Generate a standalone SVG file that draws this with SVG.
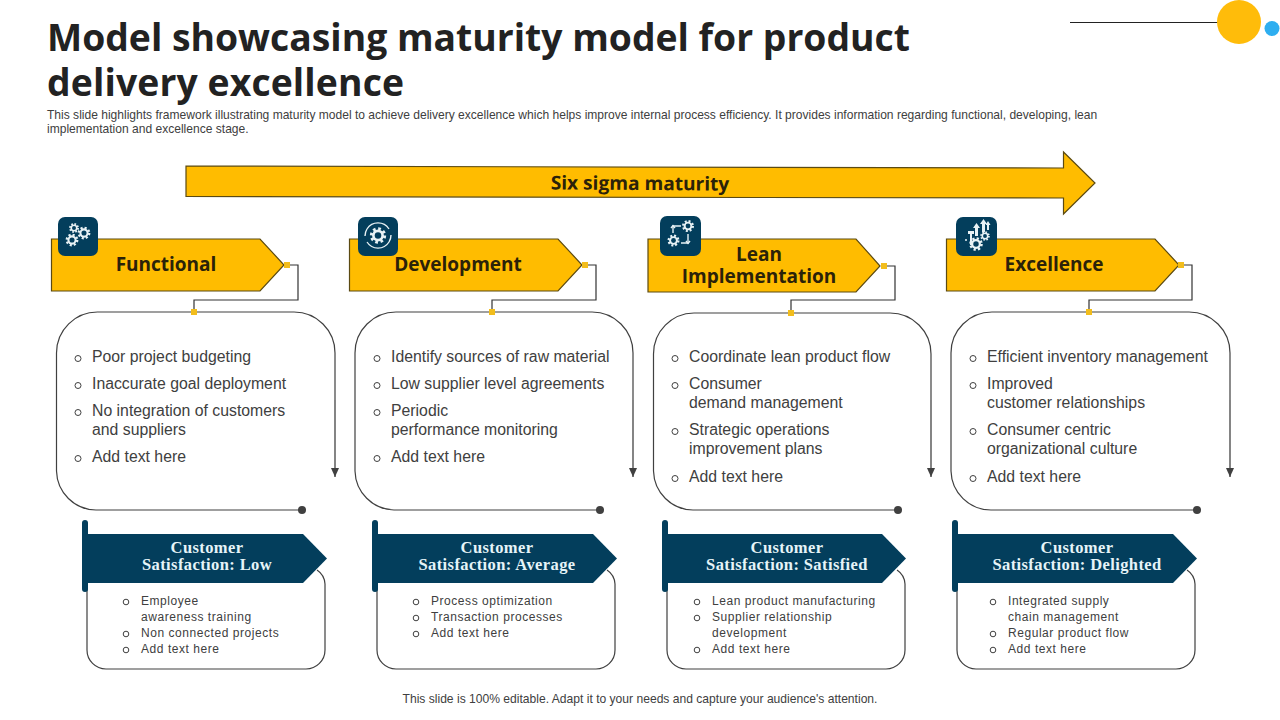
<svg xmlns="http://www.w3.org/2000/svg" width="1280" height="720" viewBox="0 0 1280 720">
<defs>
<style>
.title{font:700 37.300px "Open Sans","Noto Sans",sans-serif;fill:#222}
.sub{font:12.050px "Liberation Sans",Arial,sans-serif;fill:#404040}
.foot{font:12.100px "Liberation Sans",Arial,sans-serif;fill:#404040;text-anchor:middle}
.head{font:700 19px "Open Sans","Noto Sans",sans-serif;fill:#2b2209;text-anchor:middle}
.sig{font:700 19.100px "Open Sans","Noto Sans",sans-serif;fill:#2b2209;text-anchor:middle}
.sat{font:700 16.500px "Liberation Serif","Open Sans",serif;fill:#e6f4f8;text-anchor:middle;letter-spacing:.4px}
.b1{font:15.800px "Liberation Sans",Arial,sans-serif;fill:#404040}
.b2{font:12px "Liberation Sans",Arial,sans-serif;fill:#404040;letter-spacing:.55px}
.bul{fill:none;stroke:#404040;stroke-width:1}
.ban{fill:#ffbc00;stroke:#5b4a12;stroke-width:1.2}
.box{fill:none;stroke:#404040;stroke-width:1.2}
.con{fill:none;stroke:#333;stroke-width:1.2}
.sq{fill:#f2bd1c}
.navy{fill:#033e5c}
.ic{fill:none;stroke:#e8f2f5;stroke-width:1.4}
</style>
<marker id="ah" viewBox="0 0 8 9" refX="4" refY="9" markerWidth="8" markerHeight="9" orient="0" markerUnits="userSpaceOnUse"><path d="M0 0H8L4 9Z" fill="#404040"/></marker>
<symbol id="gear" viewBox="-10 -10 20 20" overflow="visible">
<circle r="6.500" fill="none" stroke="#e8f2f5" stroke-width="3" stroke-dasharray="2.600 2.500"/>
<circle r="5.800" fill="#e8f2f5"/>
<circle r="3.200" fill="#033e5c"/>
</symbol>
</defs>
<rect width="1280" height="720" fill="#fff"/>
<g id="header">
<text class="title" x="47" y="51">Model showcasing maturity model for product</text>
<text class="title" x="47" y="96" textLength="357" lengthAdjust="spacing">delivery excellence</text>
<text class="sub" x="47" y="119">This slide highlights framework illustrating maturity model to achieve delivery excellence which helps improve internal process efficiency. It provides information regarding functional, developing, lean</text>
<text class="sub" x="47" y="133">implementation and excellence stage.</text>
<path d="M1070 22.500H1220" stroke="#222" stroke-width="1"/>
<circle cx="1239" cy="22" r="22" fill="#ffbc0a"/>
<circle cx="1272" cy="28.500" r="7.500" fill="#2eaef0"/>
</g>
<g id="sigma">
<path d="M186 166L1063.500 168V152L1095 183L1063.500 214V198L186 196.500Z" class="ban"/>
<text class="sig" x="640" y="190" transform="rotate(.4 640 184)">Six sigma maturity</text>
</g>
<g id="connectors">
<path class="con" d="M287 265H298V300H194V312"/>
<path class="con" d="M585 265H596V300H492V312"/>
<path class="con" d="M884 266H895V300H791V313"/>
<path class="con" d="M1181 265H1192V300H1089V312"/>
<path class="con" d="M335 400V477" marker-end="url(#ah)"/>
<path class="con" d="M633 400V477" marker-end="url(#ah)"/>
<path class="con" d="M931 400V477" marker-end="url(#ah)"/>
<path class="con" d="M1230 400V477" marker-end="url(#ah)"/>
</g>
<g id="n1">
<path class="ban" d="M51.500 239H260L284 265L260 291H51.500Z"/>
<rect class="navy" x="58" y="217" width="40" height="39" rx="7"/>
<use href="#gear" x="-10" y="-10" width="20" height="20" transform="translate(84 233) scale(.8)"/>
<use href="#gear" x="-10" y="-10" width="20" height="20" transform="translate(74 228) scale(.62)"/>
<use href="#gear" x="-10" y="-10" width="20" height="20" transform="translate(72 240) scale(.8)"/>
<text class="head" x="166" y="271">Functional</text>
<rect class="sq" x="284" y="262" width="6" height="6"/>
<path class="box" d="M98 312H294A41 41 0 0 1 335 353V400M302 510H96A40 40 0 0 1 56.500 471V353A41 41 0 0 1 98 312"/>
<rect class="sq" x="191" y="309" width="6" height="6"/>
<circle cx="302" cy="510" r="4" fill="#404040"/>
<circle class="bul" cx="78" cy="358.500" r="3"/><text class="b1" x="92" y="362">Poor project budgeting</text>
<circle class="bul" cx="78" cy="385.500" r="3"/><text class="b1" x="92" y="389">Inaccurate goal deployment</text>
<circle class="bul" cx="78" cy="412.500" r="3"/><text class="b1" x="92" y="416">No integration of customers</text><text class="b1" x="92" y="435">and suppliers</text>
<circle class="bul" cx="78" cy="458.500" r="3"/><text class="b1" x="92" y="462">Add text here</text>
<path class="box" d="M87 578V650A19 19 0 0 0 106 669H306A19 19 0 0 0 325 650V584A18 18 0 0 0 317 570"/>
<path class="navy" d="M87 534H303L327 558.500L303 583H87Z"/>
<rect class="navy" x="82" y="520" width="6" height="72" rx="3"/>
<text class="sat" x="207" y="552.500">Customer</text><text class="sat" x="207" y="569.500">Satisfaction: Low</text>
<circle class="bul" cx="126" cy="602" r="2.800"/><text class="b2" x="141" y="604.500">Employee</text><text class="b2" x="141" y="620.500">awareness training</text>
<circle class="bul" cx="126" cy="634" r="2.800"/><text class="b2" x="141" y="636.500">Non connected projects</text>
<circle class="bul" cx="126" cy="650" r="2.800"/><text class="b2" x="141" y="652.500">Add text here</text>
</g>
<g id="n2">
<path class="ban" d="M349.500 239H558L582 265L558 291H349.500Z"/>
<rect class="navy" x="358" y="217" width="40" height="39" rx="7"/>
<g class="ic"><path d="M367 229A13 13 0 0 1 389 229M389 242A13 13 0 0 1 367 242" stroke-width="1.300"/><path d="M365 236A13 13 0 0 1 367 229M391 235A13 13 0 0 1 389 242"/></g>
<use href="#gear" x="-10" y="-10" width="20" height="20" transform="translate(378 235.500) scale(1.020)"/>
<text class="head" x="458" y="271">Development</text>
<rect class="sq" x="582" y="262" width="6" height="6"/>
<path class="box" d="M396 312H592A41 41 0 0 1 633 353V400M600 510H394A40 40 0 0 1 355 471V353A41 41 0 0 1 396 312"/>
<rect class="sq" x="489" y="309" width="6" height="6"/>
<circle cx="600" cy="510" r="4" fill="#404040"/>
<circle class="bul" cx="377" cy="358.500" r="3"/><text class="b1" x="391" y="362">Identify sources of raw material</text>
<circle class="bul" cx="377" cy="385.500" r="3"/><text class="b1" x="391" y="389">Low supplier level agreements</text>
<circle class="bul" cx="377" cy="412.500" r="3"/><text class="b1" x="391" y="416">Periodic</text><text class="b1" x="391" y="435">performance monitoring</text>
<circle class="bul" cx="377" cy="458.500" r="3"/><text class="b1" x="391" y="462">Add text here</text>
<path class="box" d="M377 578V650A19 19 0 0 0 396 669H596A19 19 0 0 0 615 650V584A18 18 0 0 0 607 570"/>
<path class="navy" d="M377 534H593L617 558.500L593 583H377Z"/>
<rect class="navy" x="372" y="520" width="6" height="72" rx="3"/>
<text class="sat" x="497" y="552.500">Customer</text><text class="sat" x="497" y="569.500">Satisfaction: Average</text>
<circle class="bul" cx="416" cy="602" r="2.800"/><text class="b2" x="431" y="604.500">Process optimization</text>
<circle class="bul" cx="416" cy="618" r="2.800"/><text class="b2" x="431" y="620.500">Transaction processes</text>
<circle class="bul" cx="416" cy="634" r="2.800"/><text class="b2" x="431" y="636.500">Add text here</text>
</g>
<g id="n3">
<path class="ban" d="M648 239H856L880 266L856 292H648Z"/>
<rect class="navy" x="660" y="216" width="41" height="40" rx="7"/>
<use href="#gear" x="-10" y="-10" width="20" height="20" transform="translate(688 226) scale(.75)"/>
<use href="#gear" x="-10" y="-10" width="20" height="20" transform="translate(673.500 240.500) scale(.75)"/>
<g class="ic"><path d="M673 233V226H681M688 234V243H681"/><path d="M671 228L673 225.500L675 228M686 241L688 243.500L690 241"/></g>
<text class="head" x="759" y="261">Lean</text><text class="head" x="759" y="283">Implementation</text>
<rect class="sq" x="881" y="263" width="6" height="6"/>
<path class="box" d="M694 313H890A41 41 0 0 1 931 354V400M898 510H693A40 40 0 0 1 653.500 471V354A41 41 0 0 1 694 313"/>
<rect class="sq" x="788" y="310" width="6" height="6"/>
<circle cx="898" cy="510" r="4" fill="#404040"/>
<circle class="bul" cx="675" cy="358.500" r="3"/><text class="b1" x="689" y="362">Coordinate lean product flow</text>
<circle class="bul" cx="675" cy="385.500" r="3"/><text class="b1" x="689" y="389">Consumer</text><text class="b1" x="689" y="408">demand management</text>
<circle class="bul" cx="675" cy="431.500" r="3"/><text class="b1" x="689" y="435">Strategic operations</text><text class="b1" x="689" y="454">improvement plans</text>
<circle class="bul" cx="675" cy="478.500" r="3"/><text class="b1" x="689" y="482">Add text here</text>
<path class="box" d="M667 578V650A19 19 0 0 0 686 669H886A19 19 0 0 0 905 650V584A18 18 0 0 0 897 570"/>
<path class="navy" d="M667 534H882L906 558.500L882 583H667Z"/>
<rect class="navy" x="662" y="520" width="6" height="72" rx="3"/>
<text class="sat" x="787" y="552.500">Customer</text><text class="sat" x="787" y="569.500">Satisfaction: Satisfied</text>
<circle class="bul" cx="697" cy="602" r="2.800"/><text class="b2" x="712" y="604.500">Lean product manufacturing</text>
<circle class="bul" cx="697" cy="618" r="2.800"/><text class="b2" x="712" y="620.500">Supplier relationship</text><text class="b2" x="712" y="636.500">development</text>
<circle class="bul" cx="697" cy="650" r="2.800"/><text class="b2" x="712" y="652.500">Add text here</text>
</g>
<g id="n4">
<path class="ban" d="M946.500 239H1155L1179 265L1155 291H946.500Z"/>
<rect class="navy" x="956" y="217" width="41" height="39" rx="7"/>
<g fill="#e8f2f5">
<path d="M968 231H974V234H972V245H970V234H968Z"/><path d="M973 228L976.500 223L980 228H978V236H975V228Z"/><path d="M980 224L983.500 219L987 224H985V232H982V224Z"/><path d="M985.500 225L988 221L990.500 225H989V230H987V225Z"/>
<circle cx="966" cy="240" r="1"/>
</g>
<use href="#gear" x="-10" y="-10" width="20" height="20" transform="translate(976 244) scale(.85)"/>
<use href="#gear" x="-10" y="-10" width="20" height="20" transform="translate(985 236) scale(.6)"/>
<text class="head" x="1054" y="271">Excellence</text>
<rect class="sq" x="1178" y="262" width="6" height="6"/>
<path class="box" d="M992 312H1189A41 41 0 0 1 1230 353V400M1197 510H991A40 40 0 0 1 951 471V353A41 41 0 0 1 992 312"/>
<rect class="sq" x="1086" y="309" width="6" height="6"/>
<circle cx="1197" cy="510" r="4" fill="#404040"/>
<circle class="bul" cx="973" cy="358.500" r="3"/><text class="b1" x="987" y="362">Efficient inventory management</text>
<circle class="bul" cx="973" cy="385.500" r="3"/><text class="b1" x="987" y="389">Improved</text><text class="b1" x="987" y="408">customer relationships</text>
<circle class="bul" cx="973" cy="431.500" r="3"/><text class="b1" x="987" y="435">Consumer centric</text><text class="b1" x="987" y="454">organizational culture</text>
<circle class="bul" cx="973" cy="478.500" r="3"/><text class="b1" x="987" y="482">Add text here</text>
<path class="box" d="M957 578V650A19 19 0 0 0 976 669H1176A19 19 0 0 0 1195 650V584A18 18 0 0 0 1187 570"/>
<path class="navy" d="M957 534H1173L1197 558.500L1173 583H957Z"/>
<rect class="navy" x="952" y="520" width="6" height="72" rx="3"/>
<text class="sat" x="1077" y="552.500">Customer</text><text class="sat" x="1077" y="569.500">Satisfaction: Delighted</text>
<circle class="bul" cx="993" cy="602" r="2.800"/><text class="b2" x="1008" y="604.500">Integrated supply</text><text class="b2" x="1008" y="620.500">chain management</text>
<circle class="bul" cx="993" cy="634" r="2.800"/><text class="b2" x="1008" y="636.500">Regular product flow</text>
<circle class="bul" cx="993" cy="650" r="2.800"/><text class="b2" x="1008" y="652.500">Add text here</text>
</g>
<text class="foot" x="640" y="703">This slide is 100% editable. Adapt it to your needs and capture your audience's attention.</text>
</svg>
